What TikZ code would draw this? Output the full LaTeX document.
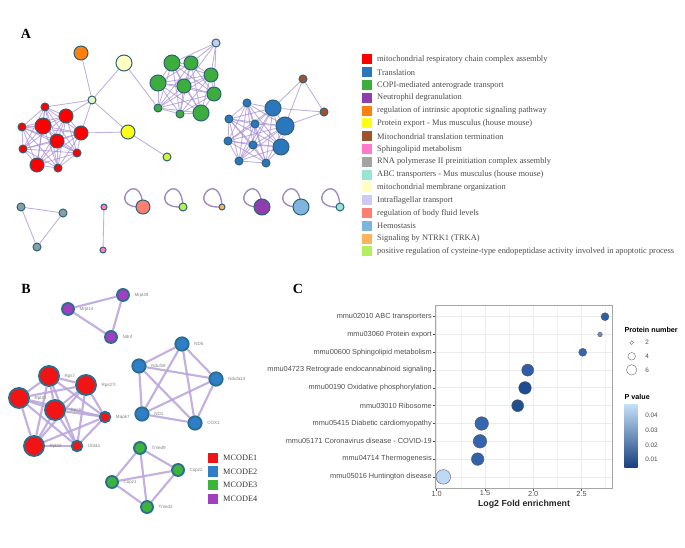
\documentclass[tikz,border=0pt]{standalone}
\usepackage{fontspec}
\setmainfont{Liberation Serif}
\setsansfont{Liberation Sans}
\usetikzlibrary{positioning, calc, shapes}

\definecolor{redc}{HTML}{FF0000}
\definecolor{bluec}{HTML}{2B77BD}
\definecolor{greenc}{HTML}{3DAE3D}
\definecolor{purplec}{HTML}{8E3FAD}
\definecolor{orangec}{HTML}{FF7F0E}
\definecolor{yellowc}{HTML}{FFFF1A}
\definecolor{brownc}{HTML}{A0522D}
\definecolor{pinkc}{HTML}{FF7ACC}
\definecolor{grayc}{HTML}{A3A3A3}
\definecolor{aquac}{HTML}{99E5D5}
\definecolor{paleyc}{HTML}{FFFFC2}
\definecolor{lavc}{HTML}{CCCCF2}
\definecolor{salmonc}{HTML}{FA8072}
\definecolor{lbluec}{HTML}{7FB4DE}
\definecolor{lorangec}{HTML}{FFB35C}
\definecolor{limec}{HTML}{B3F05C}
\definecolor{palegc}{HTML}{E6F7C4}
\definecolor{tgrayc}{HTML}{8A9EA5}
\definecolor{rimc}{HTML}{2E6275}
\definecolor{linkc}{HTML}{A58CD2}
\definecolor{legtext}{HTML}{4A4A4A}
\definecolor{mc1}{HTML}{F01414}
\definecolor{mc2}{HTML}{2F7FC8}
\definecolor{mc3}{HTML}{3CB43C}
\definecolor{mc4}{HTML}{A040C0}
\definecolor{brimc}{HTML}{2A6D8C}
\definecolor{blinkc}{HTML}{B8A2DC}
\definecolor{axtext}{HTML}{4D4D4D}
\definecolor{gridmaj}{HTML}{EBEBEB}
\definecolor{gridmin}{HTML}{F4F4F4}
\definecolor{pv1}{HTML}{2E5EA6}
\definecolor{pv2}{HTML}{6B8FC8}
\definecolor{pv3}{HTML}{3565AE}
\definecolor{pv4}{HTML}{2F5DA8}
\definecolor{pv5}{HTML}{1D4C94}
\definecolor{pv6}{HTML}{21508F}
\definecolor{pv7}{HTML}{3867B0}
\definecolor{pv8}{HTML}{3564AE}
\definecolor{pv9}{HTML}{3462AA}
\definecolor{pv10}{HTML}{BCD9F5}

\pgfdeclarelayer{edges}
\pgfsetlayers{edges,main}

\tikzset{
    gene/.style={circle, draw=rimc, line width=0.75pt, inner sep=0pt},
    xs/.style={minimum size=4.5pt},
    sm/.style={minimum size=6pt},
    md/.style={minimum size=10.5pt},
    lg/.style={minimum size=12pt},
    xl/.style={minimum size=13.5pt},
    link/.style={draw=linkc, opacity=0.7, line width=0.65pt},
    loopline/.style={draw=linkc!75!gray, line width=1pt},
    keybox/.style={minimum size=7.5pt, inner sep=0pt},
    keytext/.style={anchor=west, inner sep=0pt, text=legtext, font=\fontsize{6.3}{7}\selectfont},
    panel/.style={font=\fontsize{10.5}{12}\selectfont\bfseries},
    mgene/.style={circle, draw=brimc, line width=1.4pt, inner sep=0pt,
        label distance=-1.5pt},
    blabel/.style={font=\sffamily\fontsize{3.4}{4}\selectfont, text=gray},
    mlink/.style={draw=blinkc, opacity=0.85, line width=1.6pt},
    ylab/.style={anchor=east, inner sep=0pt, text=axtext, font=\sffamily\fontsize{5.5}{6}\selectfont},
    ticklab/.style={inner sep=0pt, text=axtext, font=\sffamily\fontsize{5.5}{6}\selectfont},
    bubble/.style={circle, draw=black!65, line width=0.3pt, inner sep=0pt},
}

\begin{document}
\begin{tikzpicture}[x=0.75pt, y=-0.75pt]
\useasboundingbox (0,0) rectangle (685,548);

% panel A
\node[panel] (labA) at (26,33.5) {A};

\foreach \n/\x/\y/\s in {r1/45/107/sm, r2/43/126/lg, r3/66/116/md, r4/22/127/sm, r5/81/133/md,
    r6/57/141/md, r7/23/149/sm, r8/77/153/sm, r9/37/165/md, r10/58/168/sm}
    \node[gene, \s, fill=redc] (\n) at (\x,\y) {};

\node[gene, sm, fill=palegc] (pa) at (92,100) {};
\node[gene, md, fill=orangec] (or) at (81,53) {};
\node[gene, lg, fill=paleyc] (py) at (124,63) {};
\node[gene, md, fill=yellowc] (ye) at (128,132) {};
\node[gene, sm, fill=limec!60!yellowc] (li) at (167,157) {};

\foreach \n/\x/\y/\s in {g1/172/63/lg, g2/191/63/md, g3/211/75/md, g4/158/83/lg, g5/184/86/md,
    g6/214/94/md, g7/158/108/sm, g8/180/114/sm, g9/201/113/lg}
    \node[gene, \s, fill=greenc] (\n) at (\x,\y) {};
\node[gene, sm, fill=lavc] (lav) at (216,43) {};

\foreach \n/\x/\y/\s in {b1/247/103/sm, b2/273/108/lg, b3/229/119/sm, b4/285/126/xl, b5/255/124/sm,
    b6/228/141/sm, b7/253/145/sm, b8/281/147/lg, b9/239/161/sm, b10/266/163/sm}
    \node[gene, \s, fill=bluec] (\n) at (\x,\y) {};
\node[gene, sm, fill=brownc] (bn1) at (303,79) {};
\node[gene, sm, fill=brownc] (bn2) at (324,112) {};

\node[gene, sm, fill=tgrayc] (t1) at (21,207) {};
\node[gene, sm, fill=tgrayc] (t2) at (63,213) {};
\node[gene, sm, fill=tgrayc] (t3) at (37,247) {};
\node[gene, xs, fill=pinkc] (p1) at (104,207) {};
\node[gene, xs, fill=pinkc] (p2) at (103,250) {};

\foreach \n/\x/\s/\c in {s1/143/md/salmonc, s2/183/sm/limec, s3/222/xs/lorangec,
    s4/262/lg/purplec, s5/301/lg/lbluec, s6/340/sm/aquac}
    \node[gene, \s, fill=\c] (\n) at (\x,207) {};

\begin{pgfonlayer}{edges}
\foreach \a in {1,...,10}
    \foreach \b in {1,...,10}
        {\ifnum\a<\b \draw[link] (r\a) -- (r\b); \fi}
\foreach \a in {1,...,9}
    \foreach \b in {1,...,9}
        {\ifnum\a<\b \draw[link] (g\a) -- (g\b); \fi}
\foreach \a in {1,...,10}
    \foreach \b in {1,...,10}
        {\ifnum\a<\b \draw[link] (b\a) -- (b\b); \fi}
\foreach \m in {r1,r3,r5,or,py,ye}
    \draw[link] (pa) -- (\m);
\draw[link] (ye) -- (r5);
\draw[link] (ye) -- (li);
\draw[link] (py) -- (g7);
\foreach \m in {g1,g2,g3,g5,g6}
    \draw[link] (lav) -- (\m);
\draw[link] (bn1) -- (bn2);
\foreach \m in {b2,b4}{
    \draw[link] (bn1) -- (\m);
    \draw[link] (bn2) -- (\m);
}
\draw[link] (t1) -- (t2) -- (t3) -- (t1);
\draw[link] (p1) -- (p2);
% self loops
\foreach \n in {s1,s2,s3,s4,s5,s6}
    \draw[loopline] (\n.center) .. controls +(-40,2) and +(-2,-42) .. (\n.center);
\end{pgfonlayer}

% legend A
\foreach \c/\t [count=\i from 0] in {redc/mitochondrial respiratory chain complex assembly,
    bluec/Translation, greenc/COPI-mediated anterograde transport, purplec/Neutrophil degranulation,
    orangec/regulation of intrinsic apoptotic signaling pathway,
    yellowc/Protein export - Mus musculus (house mouse),
    brownc/Mitochondrial translation termination, pinkc/Sphingolipid metabolism,
    grayc/RNA polymerase II preinitiation complex assembly,
    aquac/ABC transporters - Mus musculus (house mouse),
    paleyc/mitochondrial membrane organization, lavc/Intraflagellar transport,
    salmonc/regulation of body fluid levels, lbluec/Hemostasis, lorangec/Signaling by NTRK1 (TRKA),
    limec/positive regulation of cysteine-type endopeptidase activity involved in apoptotic process}{
    \node[keybox, fill=\c] (ka\i) at (367,59.5+12.8*\i) {};
    \node[keytext, right=3.5pt of ka\i] (ta\i) {\t};
}

% panel B
\node[panel] (labB) at (26,289) {B};

\foreach \n/\x/\y/\t in {m1/123/295/Mrpl49, m2/68/309/Mrpl14, m3/111/337/Ndnf}
    \node[mgene, minimum size=9pt, fill=mc4, label={[blabel]right:\t}] (\n) at (\x,\y) {};
\foreach \n/\x/\y/\t in {n1/182/344/ND5, n2/139/366/Ndufs8, n3/216/379/Ndufa13, n4/142/414/ND1, n5/195/423/COX1}
    \node[mgene, minimum size=10pt, fill=mc2, label={[blabel]right:\t}] (\n) at (\x,\y) {};
\foreach \n/\x/\y/\s/\t in {q1/49/376/15/Rps7, q2/86/385/15/Rps27l, q3/19/398/15/Rpl21, q4/55/410/15/Rps6,
    q5/105/417/8/Mapk7, q6/34/446/15/Rpl22, q7/77/446/8/Ubl4a}
    \node[mgene, minimum size=\s pt, fill=mc1, label={[blabel]right:\t}] (\n) at (\x,\y) {};
\foreach \n/\x/\y/\t in {e1/140/448/Tmed9, e2/178/470/Copz2, e3/112/482/Copz1, e4/147/507/Tmed2}
    \node[mgene, minimum size=9pt, fill=mc3, label={[blabel]right:\t}] (\n) at (\x,\y) {};

\begin{pgfonlayer}{edges}
\draw[mlink] (m1) -- (m2) -- (m3) -- (m1);
\foreach \a in {1,...,5}
    \foreach \b in {1,...,5}
        {\ifnum\a<\b \draw[mlink] (n\a) -- (n\b); \fi}
\foreach \a in {1,...,7}
    \foreach \b in {1,...,7}
        {\ifnum\a<\b \draw[mlink] (q\a) -- (q\b); \fi}
\foreach \a in {1,...,4}
    \foreach \b in {1,...,4}
        {\ifnum\a<\b \draw[mlink] (e\a) -- (e\b); \fi}
\end{pgfonlayer}

\foreach \c/\t [count=\i from 0] in {mc1/MCODE1, mc2/MCODE2, mc3/MCODE3, mc4/MCODE4}{
    \node[keybox, fill=\c] (kb\i) at (213,458+13.5*\i) {};
    \node[keytext, text=black!80, font=\fontsize{6.2}{7}\selectfont, right=3.5pt of kb\i] (tb\i) {\t};
}

% panel C
\node[panel] (labC) at (298,289) {C};

\foreach \px in {460.8, 509.1, 557.4, 605.6}
    \draw[gridmin, line width=0.4pt] (\px,305) -- (\px,488);
\foreach \px/\t in {436.7/1.0, 485/1.5, 533.2/2.0, 581.5/2.5}{
    \draw[gridmaj, line width=0.6pt] (\px,305) -- (\px,488);
    \draw[axtext] (\px,488) -- (\px,490.5);
    \node[ticklab] (xt\t) at (\px,493.5) {\t};
}
\foreach \i in {0,...,9}{
    \draw[gridmaj, line width=0.6pt] (435.7,316.7+17.8*\i) -- (612.7,316.7+17.8*\i);
    \draw[axtext] (433,316.7+17.8*\i) -- (435.7,316.7+17.8*\i);
}
\draw[gray!70, line width=0.6pt] (435.7,305) rectangle (612.7,488);

\foreach \t/\px/\r/\c [count=\i from 0] in {mmu02010 ABC transporters/605/4/pv1,
    mmu03060 Protein export/600/2.3/pv2, mmu00600 Sphingolipid metabolism/582.7/4/pv3,
    mmu04723 Retrograde endocannabinoid signaling/527.7/6/pv4,
    mmu00190 Oxidative phosphorylation/525/6.3/pv5, mmu03010 Ribosome/517.7/6/pv6,
    mmu05415 Diabetic cardiomyopathy/481.7/6.8/pv7,
    mmu05171 Coronavirus disease - COVID-19/480/6.8/pv8,
    mmu04714 Thermogenesis/477.7/6.3/pv9, mmu05016 Huntington disease/443.3/7.3/pv10}{
    \node[ylab] (yl\i) at (432,316.7+17.8*\i) {\t};
    \node[bubble, minimum size=\r*1.5pt, fill=\c] (pt\i) at (\px,316.7+17.8*\i) {};
}

\node[font=\sffamily\bfseries\fontsize{6.6}{8}\selectfont, text=black!85] (xtitle) at (524,504) {Log2 Fold enrichment};

\node[anchor=west, inner sep=0pt, font=\sffamily\bfseries\fontsize{5.4}{6}\selectfont] (lgn) at (624.3,330) {Protein number};
\foreach \r/\t [count=\i from 0] in {1.8/2, 3.8/4, 5.2/6}{
    \node[bubble, draw=black!60, fill=white, minimum size=\r*1.5pt] (lc\i) at (631.7,342.7+13.6*\i) {};
    \node[ticklab, anchor=west, font=\sffamily\fontsize{4.8}{5}\selectfont] (lt\i) at (645,342.7+13.6*\i) {\t};
}

\node[anchor=west, inner sep=0pt, font=\sffamily\bfseries\fontsize{5.4}{6}\selectfont] (lgp) at (624.3,397.3) {P value};
\shade[top color=pv10!90!white, bottom color=pv5!85!black] (624.3,405) rectangle (637.7,467.3);
\foreach \y/\t in {415/0.04, 430/0.03, 445/0.02, 459.3/0.01}
    \node[ticklab, anchor=west, font=\sffamily\fontsize{4.8}{5}\selectfont] (pv\t) at (645,\y) {\t};

\end{tikzpicture}
\end{document}
